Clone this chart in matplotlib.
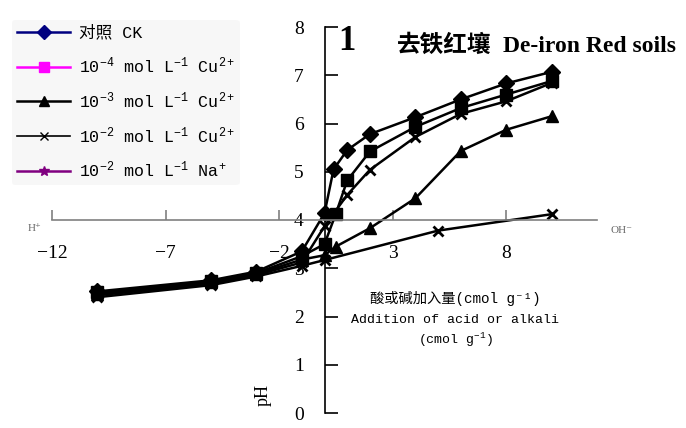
import matplotlib
matplotlib.use("Agg")
import matplotlib.pyplot as plt
from matplotlib.lines import Line2D

plt.rcParams['mathtext.fontset'] = 'custom'
plt.rcParams['mathtext.rm'] = 'Liberation Mono'
plt.rcParams['mathtext.it'] = 'Liberation Mono:italic'
plt.rcParams['mathtext.bf'] = 'Liberation Mono:bold'

# pH titration data (acid negative, alkali positive), cmol/g
x_ck = [-10, -5, -3, -1, 0, 0.4, 1, 2, 4, 6, 8, 10]
ph_ck = [2.52, 2.75, 2.93, 3.35, 4.14, 5.05, 5.45, 5.78, 6.13, 6.50, 6.83, 7.07]

x_cu4 = [-10, -5, -3, -1, 0, 0.5, 1, 2, 4, 6, 8, 10]
ph_cu4 = [2.50, 2.73, 2.90, 3.25, 3.50, 4.13, 4.82, 5.42, 5.93, 6.32, 6.60, 6.88]

x_cu3 = [-10, -5, -3, -1, 0, 0.5, 2, 4, 6, 8, 10]
ph_cu3 = [2.47, 2.71, 2.88, 3.18, 3.27, 3.45, 3.83, 4.45, 5.43, 5.87, 6.15]

x_cu2 = [-10, -5, -3, -1, 0, 1, 2, 4, 6, 8, 10]
ph_cu2 = [2.44, 2.68, 2.86, 3.12, 3.87, 4.52, 5.04, 5.72, 6.20, 6.46, 6.84]

x_na = [-10, -5, -3, -1, 0, 5, 10]
ph_na = [2.40, 2.65, 2.83, 3.05, 3.17, 3.78, 4.12]

legend_labels = ["对照 CK",
                 "10$^{-4}$ mol L$^{-1}$ Cu$^{2+}$",
                 "10$^{-3}$ mol L$^{-1}$ Cu$^{2+}$",
                 "10$^{-2}$ mol L$^{-1}$ Cu$^{2+}$",
                 "10$^{-2}$ mol L$^{-1}$ Na$^{+}$"]
xticks = [-12, -7, -2, 3, 8]
yticks = [0, 1, 2, 3, 4, 5, 6, 7, 8]

serif = ['Liberation Serif', 'Noto Sans CJK SC', 'DejaVu Serif']
mono = ['Liberation Mono', 'Noto Sans CJK SC', 'DejaVu Sans Mono']

fig = plt.figure(figsize=(6.86, 4.28), dpi=100)
ax = fig.add_axes([52 / 686, 15 / 428, 545 / 686, 386 / 428])

ax.plot(x_ck, ph_ck, color='black', lw=1.8, marker='D', ms=8)
ax.plot(x_cu4, ph_cu4, color='black', lw=1.8, marker='s', ms=8)
ax.plot(x_cu3, ph_cu3, color='black', lw=1.8, marker='^', ms=8)
ax.plot(x_cu2, ph_cu2, color='black', lw=1.8, marker='x', ms=7, mew=2)
ax.plot(x_na, ph_na, color='black', lw=1.8, marker='x', ms=7, mew=2)

ax.set_xlim(-12, 12)
ax.set_ylim(0, 8)
ax.spines['top'].set_visible(False)
ax.spines['right'].set_visible(False)
ax.spines['left'].set_position(('data', 0))
ax.spines['bottom'].set_position(('data', 4))
ax.spines['left'].set_linewidth(1.2)
ax.spines['bottom'].set_linewidth(1.2)
ax.spines['bottom'].set_color('#808080')

ax.set_xticks(xticks)
ax.set_yticks(yticks)
ax.tick_params(axis='x', direction='in', length=7, width=1.2, color='#808080', pad=18)
ax.tick_params(axis='y', direction='in', length=9, width=1.2, pad=15)
for lab in ax.get_xticklabels() + ax.get_yticklabels():
    lab.set_fontfamily(serif)
    lab.set_fontsize(14)

ax.text(-12.75, 3.83, "H⁺", fontsize=8, color='#666666', family=serif,
        ha='center', va='center', clip_on=False)
ax.text(13.1, 3.79, "OH⁻", fontsize=8, color='#666666', family=serif,
        ha='center', va='center', clip_on=False)

# axis labels
fig.text(263 / 686, 1 - 395 / 428, "pH", rotation=90, fontsize=13, family=serif,
         ha='center', va='center')
fig.text(455 / 686, 1 - 299 / 428, "酸或碱加入量(cmol g⁻¹)", fontsize=10.3,
         family=mono, ha='center', va='center')
fig.text(455 / 686, 1 - 320 / 428, "Addition of acid or alkali", fontsize=9.5,
         family=mono, ha='center', va='center')
fig.text(455 / 686, 1 - 340 / 428, "(cmol g$^{-1}$)", fontsize=9.5,
         family=mono, ha='center', va='center')

# title
fig.text(347 / 686, 1 - 42 / 428, "1", fontsize=25, fontweight='bold', family=serif,
         ha='center', va='center')
fig.text(397 / 686, 1 - 45 / 428, "去铁红壤", fontsize=17, fontweight='bold',
         family=['Noto Sans CJK SC'], ha='left', va='center')
fig.text(503 / 686, 1 - 46 / 428, "De-iron Red soils", fontsize=17, fontweight='bold',
         family=serif, ha='left', va='center')

handles = [
    Line2D([], [], color='#000080', lw=1.8, marker='D', ms=7),
    Line2D([], [], color='#ff00ff', lw=1.8, marker='s', ms=7),
    Line2D([], [], color='black', lw=1.8, marker='^', ms=7),
    Line2D([], [], color='black', lw=1.2, marker='x', ms=6),
    Line2D([], [], color='#800080', lw=1.8, marker='*', ms=7),
]
leg = fig.legend(handles, legend_labels, loc='upper left',
                 bbox_to_anchor=(12 / 686, 1 - 20 / 428),
                 prop={'family': mono, 'size': 12}, frameon=True,
                 handlelength=3.2, handletextpad=0.5, labelspacing=0.86,
                 borderpad=0.3, borderaxespad=0)
leg.get_frame().set_facecolor('#f6f6f6')
leg.get_frame().set_edgecolor('none')

fig.savefig("out.png", dpi=100)
